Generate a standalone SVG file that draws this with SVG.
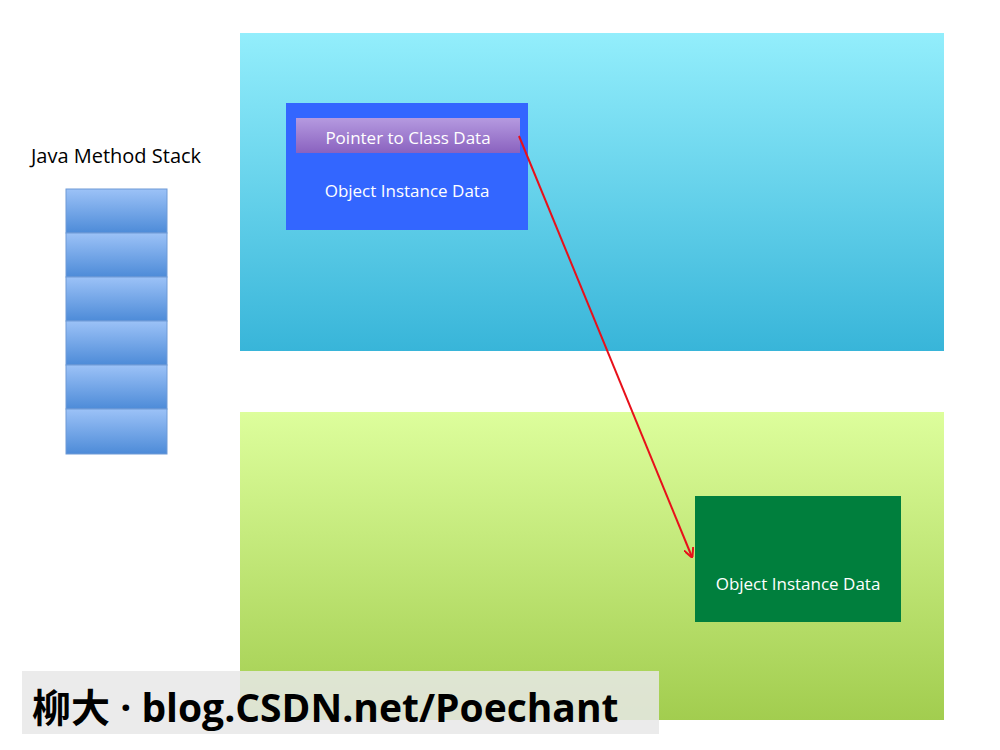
<svg xmlns="http://www.w3.org/2000/svg" width="1000" height="750" viewBox="0 0 1000 750">
<defs>
<linearGradient id="gCyan" x1="0" y1="0" x2="0" y2="1"><stop offset="0" stop-color="#93eefc"/><stop offset="1" stop-color="#38b5d9"/></linearGradient>
<linearGradient id="gGreen" x1="0" y1="0" x2="0" y2="1"><stop offset="0" stop-color="#ddfe9c"/><stop offset="1" stop-color="#a2cd4f"/></linearGradient>
<linearGradient id="gStack" x1="0" y1="0" x2="0" y2="1"><stop offset="0" stop-color="#9cc2f7"/><stop offset="1" stop-color="#4d8bd8"/></linearGradient>
<linearGradient id="gPurple" x1="0" y1="0" x2="0" y2="1"><stop offset="0" stop-color="#b59ae0"/><stop offset="1" stop-color="#8a62bf"/></linearGradient>
<marker id="arr" markerWidth="10" markerHeight="10" refX="9" refY="5" orient="auto" markerUnits="userSpaceOnUse"><path d="M0,0 L10,5 L0,10" fill="none" stroke="#e8101a" stroke-width="2"/></marker>
</defs>
<style>
.t{font-family:"Open Sans","Liberation Sans",sans-serif;font-size:17px;text-anchor:middle}
.w{fill:#fff}
.cell{fill:url(#gStack);stroke:#6e9ad6;stroke-width:1}
</style>
<rect width="1000" height="750" fill="#fff"/>
<g id="heap-young"><rect x="240" y="33" width="704" height="318" fill="url(#gCyan)"/></g>
<g id="heap-old"><rect x="240" y="412" width="704" height="308" fill="url(#gGreen)"/></g>
<g id="stack">
<text class="t" x="116" y="163" fill="#000" style="font-size:20px">Java Method Stack</text>
<rect class="cell" x="66" y="189" width="101" height="44"/>
<rect class="cell" x="66" y="233" width="101" height="44"/>
<rect class="cell" x="66" y="277" width="101" height="44"/>
<rect class="cell" x="66" y="321" width="101" height="44"/>
<rect class="cell" x="66" y="365" width="101" height="44"/>
<rect class="cell" x="66" y="409" width="101" height="45"/>
</g>
<g id="obj1">
<rect x="286" y="103" width="242" height="127" fill="#3366ff"/>
<rect x="296" y="118" width="224" height="35" fill="url(#gPurple)"/>
<text class="t w" x="408" y="144">Pointer to Class Data</text>
<text class="t w" x="407" y="197">Object Instance Data</text>
</g>
<g id="obj2">
<rect x="695" y="496" width="206" height="126" fill="#007f3d"/>
<text class="t w" x="798" y="590">Object Instance Data</text>
</g>
<g id="connectors">
<line x1="519" y1="136" x2="692" y2="557" stroke="#e8101a" stroke-width="2" marker-end="url(#arr)"/>
</g>
<g id="watermark">
<rect x="22" y="671" width="637" height="63" fill="#e8e8e8" fill-opacity="0.85"/>
<text x="32" y="722" font-family="'Open Sans','Noto Sans CJK SC',sans-serif" font-size="39" font-weight="bold" fill="#000">柳大 · blog.CSDN.net/Poechant</text>
</g>
</svg>
